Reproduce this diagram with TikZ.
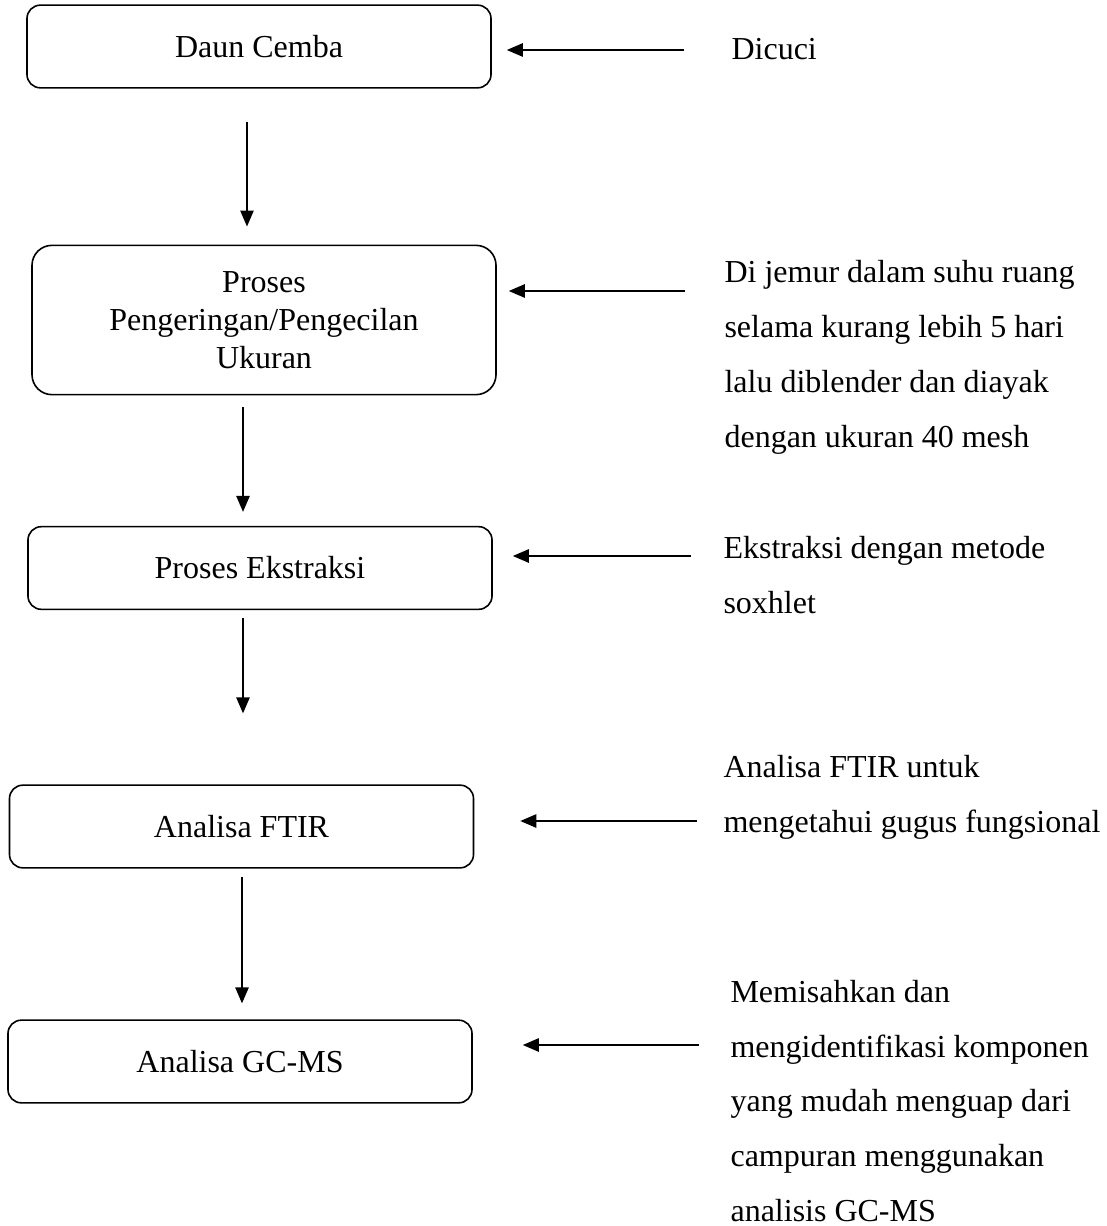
\documentclass[tikz,border=0pt]{standalone}
\usepackage{fontspec}
\setmainfont{Liberation Serif}
\usetikzlibrary{calc}
\usetikzlibrary{arrows.meta}

\tikzset{
	proses/.style={draw, line width=0.6pt, rounded corners=5pt, minimum width=174pt, minimum height=31pt, inner sep=0pt, align=center, font=\fontsize{12pt}{14.25pt}\selectfont},
	ket/.style={anchor=west, inner sep=0pt, align=left, font=\fontsize{12pt}{20.6pt}\selectfont},
	panah/.style={line width=0.6pt, -{Triangle[length=6pt,width=5pt]}}
}

\begin{document}
\begin{tikzpicture}[x=0.375pt,y=-0.375pt]
		\useasboundingbox (0,0) rectangle (1107,1226);
		% kotak alur
		\node[proses] (daun) at (259,46.5) {Daun Cemba};
		\node[proses, minimum height=56pt, rounded corners=7.5pt] (kering) at (264,320) {Proses\\Pengeringan/Pengecilan\\Ukuran};
		\node[proses] (ekstrak) at (260,568) {Proses Ekstraksi};
		\node[proses] (ftir) at (241.5,826.5) {Analisa FTIR};
		\node[proses] (gcms) at (240,1061.5) {Analisa GC-MS};
		% keterangan
		\node[ket] (kDaun) at (731,49) {Dicuci};
		\node[ket] (kKering) at (724,357) {Di jemur dalam suhu ruang\\selama kurang lebih 5 hari\\lalu diblender dan diayak\\dengan ukuran 40 mesh};
		\node[ket] (kEkstrak) at (723,575) {Ekstraksi dengan metode\\soxhlet};
		\node[ket] (kFtir) at (723,797) {Analisa FTIR untuk\\mengetahui gugus fungsional};
		\node[ket] (kGcms) at (730,1101) {Memisahkan dan\\mengidentifikasi komponen\\yang mudah menguap dari\\campuran menggunakan\\analisis GC-MS};
		% panah turun
		\draw[panah] ($(daun.south)+(-12,33)$) -- ($(kering.north)+(-17,-18)$);
		\draw[panah] ($(kering.south)+(-21,12)$) -- ($(ekstrak.north)+(-17,-14)$);
		\draw[panah] ($(ekstrak.south)+(-17,8)$) -- ($(ftir.north)+(1.5,-71)$);
		\draw[panah] ($(ftir.south)+(0.5,8)$) -- ($(gcms.north)+(2,-16)$);
		% panah keterangan
		\draw[panah] ($(kDaun.west)+(-47,1)$) -- ($(daun.east)+(15,3.5)$);
		\draw[panah] ($(kKering.west)+(-39,-66)$) -- ($(kering.east)+(12,-29)$);
		\draw[panah] ($(kEkstrak.west)+(-32,-19)$) -- ($(ekstrak.east)+(20,-12)$);
		\draw[panah] ($(kFtir.west)+(-26,24)$) -- ($(ftir.east)+(46,-5.5)$);
		\draw[panah] ($(kGcms.west)+(-31,-56)$) -- ($(gcms.east)+(50,-16.5)$);
\end{tikzpicture}
\end{document}
